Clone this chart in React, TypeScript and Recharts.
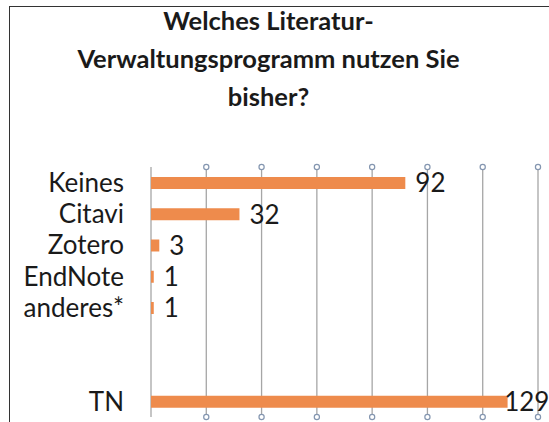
import { Bar, BarChart, CartesianGrid, LabelList, XAxis, YAxis } from "recharts";

const categories = ["Keines", "Citavi", "Zotero", "EndNote", "anderes*", "", " ", "TN"];
const counts: (number | null)[] = [92, 32, 3, 1, 1, null, null, 129];
const xTicks = [0, 20, 40, 60, 80, 100, 120, 140];
const titleLines = ["Welches Literatur-", "Verwaltungsprogramm nutzen Sie", "bisher?"];

const data = categories.map((name, i) => ({ name, value: counts[i] }));

const FONT = "Lato, 'Open Sans', sans-serif";
const W = 549;
const H = 422;

// Grid line with a small hollow circle at each end (none on the zero line).
function GridLine(props: any) {
  const { x1, y1, x2, y2, index } = props;
  return (
    <g key={`gl-${index}`}>
      <line x1={x1} y1={y1} x2={x2} y2={y2} stroke="#a6a6a6" strokeWidth={1.3} />
      {index > 0 && (
        <>
          <circle cx={x1} cy={y1} r={2.6} fill="#fff" stroke="#8496b0" strokeWidth={1.2} />
          <circle cx={x2} cy={y2} r={2.6} fill="#fff" stroke="#8496b0" strokeWidth={1.2} />
        </>
      )}
    </g>
  );
}

function ValueLabel(props: any) {
  const { x, y, width, height, value } = props;
  if (value == null) return null;
  // keep the label inside the picture when the bar runs to the edge
  const textW = String(value).length * 14.6 + 1;
  const tx = Math.min(x + width + 10, W - textW);
  return (
    <text
      x={tx}
      y={y + height / 2}
      dy="0.36em"
      fontFamily={FONT}
      fontSize={26}
      fill="#1a1a1a"
    >
      {value}
    </text>
  );
}

export default function App() {
  return (
    <div
      style={{
        position: "absolute",
        left: 0,
        top: 0,
        width: W,
        height: H,
        background: "#fff",
        overflow: "hidden",
      }}
    >
      <div
        style={{
          position: "absolute",
          left: 9,
          top: 6,
          width: W,
          height: H,
          borderLeft: "1.5px solid #333",
          borderTop: "1.5px solid #333",
        }}
      />
      <div
        style={{
          position: "absolute",
          left: 0,
          top: 1,
          width: 537,
          textAlign: "center",
          fontFamily: FONT,
          fontWeight: 700,
          fontSize: 25.5,
          lineHeight: "38px",
          color: "#1a1a1a",
        }}
      >
        {titleLines.map((t) => (
          <div key={t}>{t}</div>
        ))}
      </div>
      <div style={{ position: "absolute", left: 0, top: 0 }}>
        <BarChart
          width={W}
          height={H}
          data={data}
          layout="vertical"
          margin={{ top: 167, right: 11, bottom: 5, left: 0 }}
          barSize={12}
        >
          <CartesianGrid horizontal={false} vertical={GridLine} />
          <XAxis type="number" domain={[0, 140]} ticks={xTicks} hide />
          <YAxis
            type="category"
            dataKey="name"
            width={151}
            axisLine={false}
            tickLine={false}
            tickSize={0}
            tickMargin={27}
            interval={0}
            tick={{ fontFamily: FONT, fontSize: 26, fill: "#1a1a1a" }}
          />
          <Bar dataKey="value" fill="#ee8b4c" isAnimationActive={false}>
            <LabelList dataKey="value" content={<ValueLabel />} />
          </Bar>
        </BarChart>
      </div>
    </div>
  );
}
